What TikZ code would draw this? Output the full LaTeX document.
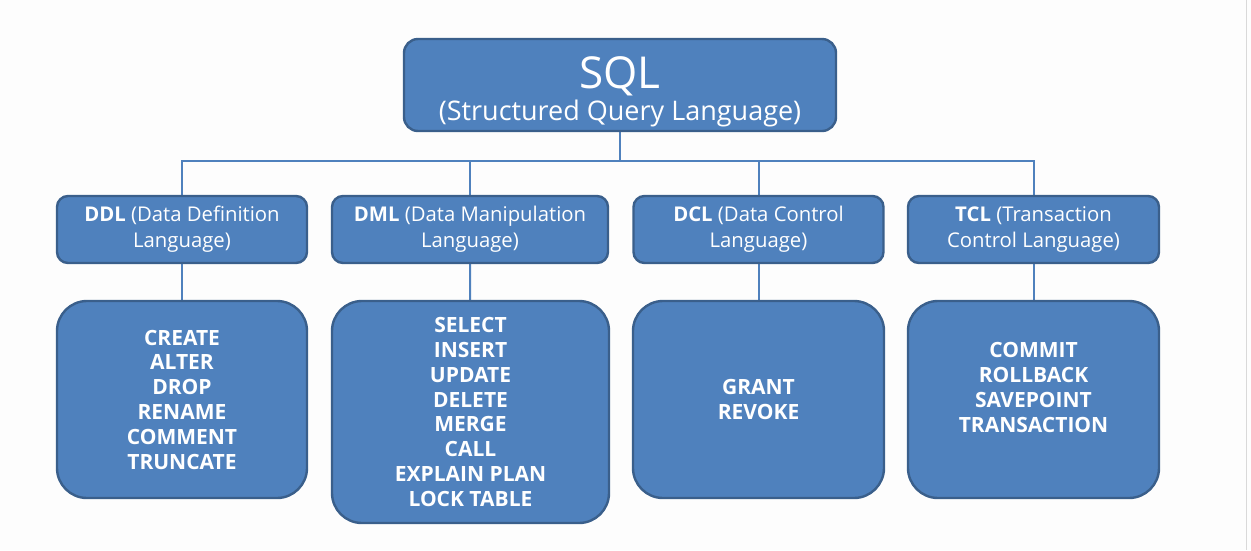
\documentclass[tikz,border=0pt]{standalone}
\usepackage{fontspec}
\setmainfont{Open Sans}
\definecolor{boxfill}{HTML}{4F81BD}
\definecolor{boxedge}{HTML}{3A5F8B}
\definecolor{linkcol}{HTML}{4F81BD}
\definecolor{edgegray}{HTML}{D9D9D9}
\definecolor{bgcol}{HTML}{FDFDFD}
\tikzset{
  base/.style={draw=boxedge, fill=boxfill, line width=2.4pt, text=white, align=center, inner sep=0pt},
  topbox/.style={base, rounded corners=14pt, minimum width=432pt, minimum height=92pt},
  catbox/.style={base, rounded corners=11pt, minimum height=67pt, font=\fontsize{20.3}{26}\selectfont},
  listbox/.style={base, rounded corners=30pt, font=\fontsize{21}{24.8}\selectfont\bfseries},
  plaintext/.style={text=white, align=center, inner sep=0pt},
  conn/.style={draw=linkcol, line width=2pt}
}
\begin{document}
\begin{tikzpicture}[x=1pt,y=-1pt]
\useasboundingbox (0,0) rectangle (1251,550);
\fill[bgcol] (0,0) rectangle (1251,550);
\draw[edgegray, line width=1pt] (1246,0) -- (1246,550);

% connector positions (drawn first so boxes sit on top)
\coordinate (hub) at (620,161);
\coordinate (sqlc) at (620,85);
\coordinate (ddlc) at (182,229.5);
\coordinate (dmlc) at (470,229.5);
\coordinate (dclc) at (758.5,229.5);
\coordinate (tclc) at (1033.5,229.5);
\coordinate (ddllc) at (182,399.5);
\coordinate (dmllc) at (470.5,412);
\coordinate (dcllc) at (758.5,399.5);
\coordinate (tcllc) at (1033.5,399.5);

\draw[conn] (sqlc) -- (hub);
\draw[conn] (ddlc) -- (ddlc |- hub) -- (tclc |- hub) -- (tclc);
\draw[conn] (dmlc) -- (dmlc |- hub);
\draw[conn] (dclc) -- (dclc |- hub);
\draw[conn] (ddlc) -- (ddllc);
\draw[conn] (dmlc) -- (dmllc);
\draw[conn] (dclc) -- (dcllc);
\draw[conn] (tclc) -- (tcllc);

\node[topbox] (sql) at (sqlc) {};
\node[plaintext, anchor=base, font=\fontsize{44}{50}\selectfont] (sqlt) at (620,88) {SQL};
\node[plaintext, anchor=base, font=\fontsize{27}{32}\selectfont] (sqls) at (620,120) {(Structured Query Language)};

\node[catbox, minimum width=250pt] (ddl) at (ddlc) {\textbf{DDL} (Data Definition\\Language)};
\node[catbox, minimum width=276pt] (dml) at (dmlc) {\textbf{DML} (Data Manipulation\\Language)};
\node[catbox, minimum width=250pt] (dcl) at (dclc) {\textbf{DCL} (Data Control\\Language)};
\node[catbox, minimum width=251pt] (tcl) at (tclc) {\textbf{TCL} (Transaction\\Control Language)};

\node[listbox, minimum width=250pt, minimum height=197pt] (ddll) at (ddllc) {CREATE\\ALTER\\DROP\\RENAME\\COMMENT\\TRUNCATE};
\node[listbox, minimum width=277pt, minimum height=222pt] (dmll) at (dmllc) {SELECT\\INSERT\\UPDATE\\DELETE\\MERGE\\CALL\\EXPLAIN PLAN\\LOCK TABLE};
\node[listbox, minimum width=251pt, minimum height=197pt] (dcll) at (dcllc) {GRANT\\REVOKE};
\node[listbox, minimum width=251pt, minimum height=197pt] (tcll) at (tcllc) {};
\node[plaintext, font=\fontsize{21}{24.8}\selectfont\bfseries, yshift=12pt] (tclt) at (tcll.center) {COMMIT\\ROLLBACK\\SAVEPOINT\\TRANSACTION};
\end{tikzpicture}
\end{document}
